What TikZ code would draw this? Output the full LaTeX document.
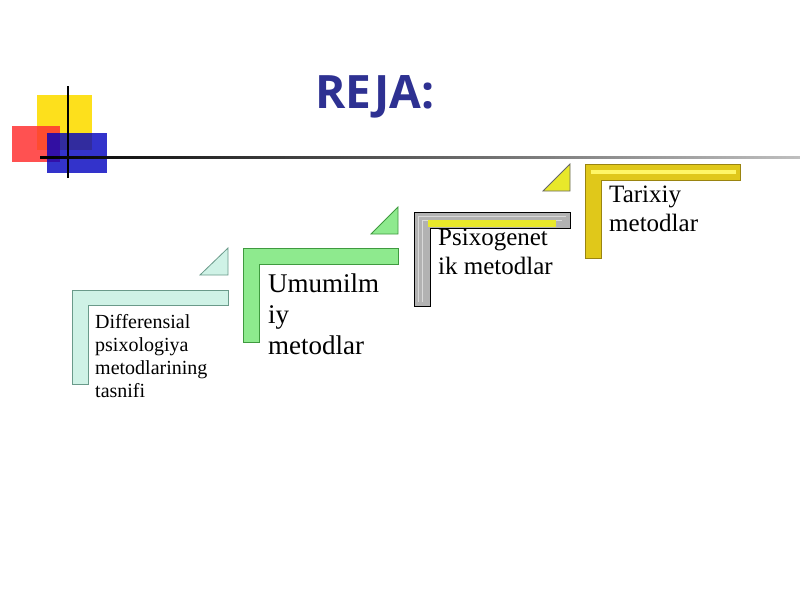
\documentclass[tikz,border=0pt]{standalone}
\usepackage{fontspec}
\setmainfont{Liberation Serif}
\newfontfamily\titlefont{Open Sans}
\usetikzlibrary{fadings}
\definecolor{tealc}{HTML}{CFF2E6}
\definecolor{tealb}{HTML}{6A9A8A}
\definecolor{greenc}{HTML}{8EEA8E}
\definecolor{greenb}{HTML}{3F9A3F}
\definecolor{yelc}{HTML}{E8E82A}
\definecolor{goldc}{HTML}{E0C81A}
\definecolor{goldb}{HTML}{9A8410}
\definecolor{titleblue}{HTML}{2E3192}
\tikzset{
  stepbar/.style={line width=0.8pt},
  lbl/.style={anchor=north west,align=left,inner sep=0pt,text=black}
}
\begin{document}
\begin{tikzpicture}[x=1pt,y=-1pt]
\useasboundingbox (0,0) rectangle (800,600);
\fill[white] (0,0) rectangle (800,600);
% logo
\fill[yellow!80!orange,opacity=0.9] (37,95) rectangle (92,150);
\fill[red!80,opacity=0.85] (12,126) rectangle (60,162);
\fill[blue!75!black,opacity=0.8] (47,133) rectangle (107,173);
\draw[line width=1.2pt] (68,86) -- (68,178);
\shade[left color=black,right color=gray!50] (40,156) rectangle (800,158.5);
\node[font=\titlefont\bfseries\fontsize{46}{50}\selectfont,text=titleblue] (title) at (375,97) {REJA:};
% step 1
\draw[stepbar,draw=tealb,fill=tealc] (72,290) -- (228,290) -- (228,305) -- (88,305) -- (88,384) -- (72,384) -- cycle;
\draw[stepbar,draw=tealb,fill=tealc] (200,275) -- (228,248) -- (228,275) -- cycle;
\node[lbl,font=\fontsize{20}{23}\selectfont] (t1) at (95,314) {Differensial\\psixologiya\\metodlarining\\tasnifi};
% step 2
\draw[stepbar,draw=greenb,fill=greenc] (243,248) -- (398,248) -- (398,264) -- (259,264) -- (259,342) -- (243,342) -- cycle;
\draw[stepbar,draw=greenb,fill=greenc] (371,234) -- (398,207) -- (398,234) -- cycle;
\node[lbl,font=\fontsize{27}{31}\selectfont] (t2) at (268,274) {Umumilm\\iy\\metodlar};
% step 3
\draw[stepbar,draw=black,fill=gray!60] (414,212) -- (570,212) -- (570,228) -- (430,228) -- (430,306) -- (414,306) -- cycle;
\draw[gray!30,line width=1pt] (418,216) -- (566,216) (418,216) -- (418,302);
\draw[gray!30,line width=1pt] (422,220) -- (562,220) (422,220) -- (422,302);
\fill[yelc] (428,220) rectangle (556,227);
\draw[stepbar,draw=black!60,fill=yelc] (543,191) -- (570,164) -- (570,191) -- cycle;
\node[lbl,font=\fontsize{25}{29}\selectfont] (t3) at (438,229) {Psixogenet\\ik metodlar};
% step 4
\draw[stepbar,draw=goldb,fill=goldc] (585,164) -- (740,164) -- (740,180) -- (601,180) -- (601,258) -- (585,258) -- cycle;
\fill[yellow!60] (591,170) rectangle (736,174);
\node[lbl,font=\fontsize{25}{29}\selectfont] (t4) at (609,186) {Tarixiy\\metodlar};
\end{tikzpicture}
\end{document}
